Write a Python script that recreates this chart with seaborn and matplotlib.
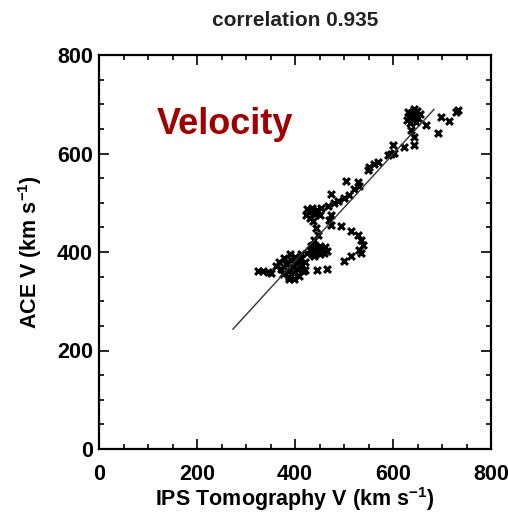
import matplotlib
matplotlib.use("Agg")
import matplotlib.pyplot as plt
from matplotlib.ticker import MultipleLocator
import seaborn as sns
import pandas as pd

# IPS tomography velocity vs ACE velocity (km/s)
ips_v = [325, 335, 345, 352,
         362, 368, 372, 375, 378, 382, 385, 388, 390, 392, 395, 398, 400, 402,
         405, 408, 410, 412, 414, 417, 420, 388, 398,
         420, 444, 465,
         425, 430, 435, 440, 445, 450, 455, 460, 465, 438, 452, 433, 462,
         500, 514, 535, 531, 539, 535, 528, 514, 494,
         437, 439, 447, 443, 437, 430, 440, 428, 445, 435, 450, 422, 425,
         473, 469, 473, 453, 467, 480, 487, 473, 500, 510, 521, 531, 528, 504,
         548, 552, 561, 569, 590, 596, 602, 600, 623, 643, 643, 637,
         628, 632, 636, 640, 644, 648, 652, 655, 634, 646, 642, 630,
         667, 692, 698, 714, 733, 728]
ace_v = [361, 361, 360, 358,
         372, 380, 366, 355, 388, 376, 362, 350, 395, 383, 370, 358, 390, 378,
         366, 352, 386, 395, 374, 362, 380, 345, 345,
         363, 363, 365,
         398, 405, 395, 410, 400, 395, 405, 398, 402, 392, 412, 412, 410,
         382, 392, 398, 404, 414, 424, 435, 443, 453,
         414, 424, 435, 449, 463, 470, 478, 482, 486, 490, 475, 476, 488,
         455, 465, 476, 490, 494, 500, 504, 518, 510, 516, 527, 535, 543, 545,
         567, 572, 578, 582, 596, 600, 602, 618, 614, 618, 633, 647,
         668, 675, 682, 670, 678, 686, 673, 680, 662, 664, 690, 684,
         657, 641, 675, 667, 688, 684]

# endpoints of the fitted line
fit_x = [273, 684]
fit_y = [243, 690]

title = "correlation 0.935"
panel_label = "Velocity"

df = pd.DataFrame({"ips": ips_v, "ace": ace_v})
fit = pd.DataFrame({"x": fit_x, "y": fit_y})

sns.set_theme(style="ticks")
plt.rcParams["font.family"] = ["Liberation Sans", "DejaVu Sans"]
plt.rcParams["text.color"] = "black"
plt.rcParams["axes.labelcolor"] = "black"
plt.rcParams["xtick.color"] = "black"
plt.rcParams["ytick.color"] = "black"
plt.rcParams["mathtext.fontset"] = "custom"
plt.rcParams["mathtext.rm"] = "Liberation Sans:bold"
plt.rcParams["mathtext.default"] = "rm"

fig = plt.figure(figsize=(5.08, 5.15), dpi=100)
ax = fig.add_axes([99 / 508, (515 - 449) / 515, 392 / 508, 394 / 515])

sns.lineplot(data=fit, x="x", y="y", color="#333333", linewidth=1.0, ax=ax)
sns.scatterplot(data=df, x="ips", y="ace", marker="x", color="black",
                s=24, linewidth=2.2, ax=ax)

ax.set_xlim(0, 800)
ax.set_ylim(0, 800)
ax.xaxis.set_major_locator(MultipleLocator(200))
ax.yaxis.set_major_locator(MultipleLocator(200))
ax.xaxis.set_minor_locator(MultipleLocator(50))
ax.yaxis.set_minor_locator(MultipleLocator(50))
ax.tick_params(which="both", direction="in", top=True, right=True,
               color="black", width=1.2)
ax.tick_params(which="major", length=7, labelsize=15.5)
ax.tick_params(axis="x", which="major", pad=11)
ax.tick_params(axis="y", which="major", pad=4.5)
ax.tick_params(which="minor", length=3.5)
for lbl in ax.get_xticklabels() + ax.get_yticklabels():
    lbl.set_fontweight("bold")
for sp in ax.spines.values():
    sp.set_linewidth(1.6)
    sp.set_color("black")

ax.set_xlabel(r"IPS Tomography V (km s$^{-1}$)",
              fontsize=15.5, fontweight="bold", labelpad=0)
ax.set_ylabel(r"ACE V (km s$^{-1}$)", fontsize=15.5,
              fontweight="bold", labelpad=9)

ax.text(257, 658, panel_label, color="#a00000", fontsize=26,
        fontweight="bold", ha="center", va="center")
fig.text(295 / 508, 1 - 20 / 515, title, fontsize=15, fontweight="bold",
         color="#222222", ha="center", va="center")

fig.savefig("out.png", dpi=100)
